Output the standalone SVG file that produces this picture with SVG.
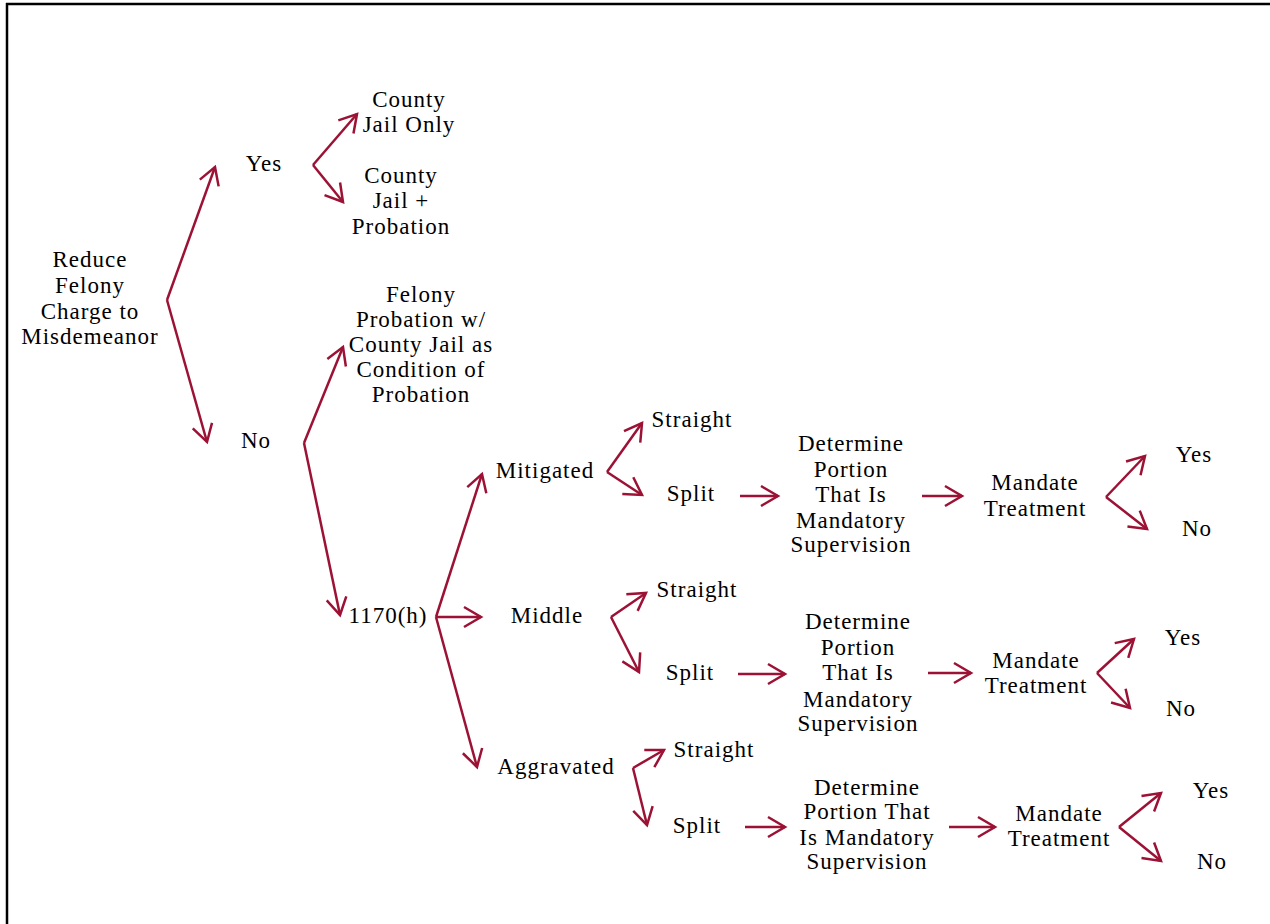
<svg xmlns="http://www.w3.org/2000/svg" width="1270" height="924" viewBox="0 0 1270 924">
<style>
text{font-family:"Liberation Serif","Times New Roman",serif;font-size:23px;letter-spacing:1px;fill:#000;text-anchor:middle}
.c path{fill:none;stroke:#9C1235;stroke-width:2.5;marker-end:url(#ah)}
</style>
<defs>
<marker id="ah" markerUnits="userSpaceOnUse" markerWidth="26" markerHeight="28" viewBox="-22 -14 26 28" refX="0" refY="0" orient="auto" overflow="visible">
<path d="M-17,-10 L0,0 L-17,10" fill="none" stroke="#9C1235" stroke-width="2.5"/>
</marker>
</defs>
<rect width="1270" height="924" fill="#fff"/>
<g id="border" stroke="#000" stroke-width="2.5" fill="none">
<path d="M6,4 H1270"/>
<path d="M7,3 V924"/>
</g>
<g id="connectors" class="c">
<path d="M167,300 L215,167"/>
<path d="M167,300 L207,442"/>
<path d="M313,165 L357,114"/>
<path d="M313,165 L343,202"/>
<path d="M304,443 L343,347"/>
<path d="M304,443 L340,615"/>
<path d="M436,617 L482,474"/>
<path d="M436,617 L481,617"/>
<path d="M436,617 L477,767"/>
<path d="M607,472 L642,423"/>
<path d="M607,472 L642,495"/>
<path d="M740,496 L778,496"/>
<path d="M922,496 L962,496"/>
<path d="M1106,497 L1145,456"/>
<path d="M1106,497 L1147,529"/>
<path d="M611,617 L646,593"/>
<path d="M611,617 L639,672"/>
<path d="M738,674 L785,674"/>
<path d="M928,673 L971,673"/>
<path d="M1097,673 L1134,639"/>
<path d="M1097,673 L1130,708"/>
<path d="M633,768 L664,750"/>
<path d="M633,768 L647,825"/>
<path d="M745,827 L785,827"/>
<path d="M949,827 L995,827"/>
<path d="M1119,827 L1161,793"/>
<path d="M1119,827 L1161,861"/>
</g>
<g id="reduce"><text x="90" y="267">Reduce</text><text x="90" y="293">Felony</text><text x="90" y="319">Charge to</text><text x="90" y="344">Misdemeanor</text></g>
<g id="yes"><text x="264" y="171">Yes</text></g>
<g id="no"><text x="256" y="448">No</text></g>
<g id="jail-only"><text x="409" y="107">County</text><text x="409" y="132">Jail Only</text></g>
<g id="jail-probation"><text x="401" y="183">County</text><text x="401" y="208">Jail +</text><text x="401" y="234">Probation</text></g>
<g id="felony-probation"><text x="421" y="302">Felony</text><text x="421" y="327">Probation w/</text><text x="421" y="352">County Jail as</text><text x="421" y="377">Condition of</text><text x="421" y="402">Probation</text></g>
<g id="h1170"><text x="388" y="623">1170(h)</text></g>
<g id="mitigated"><text x="545" y="478">Mitigated</text></g>
<g id="middle"><text x="547" y="623">Middle</text></g>
<g id="aggravated"><text x="556" y="774">Aggravated</text></g>
<g id="mit-straight"><text x="692" y="427">Straight</text></g>
<g id="mit-split"><text x="691" y="501">Split</text></g>
<g id="mit-determine"><text x="851" y="451">Determine</text><text x="851" y="477">Portion</text><text x="851" y="502">That Is</text><text x="851" y="528">Mandatory</text><text x="851" y="552">Supervision</text></g>
<g id="mit-mandate"><text x="1035" y="490">Mandate</text><text x="1035" y="516">Treatment</text></g>
<g id="mit-yes"><text x="1194" y="462">Yes</text></g>
<g id="mit-no"><text x="1197" y="536">No</text></g>
<g id="mid-straight"><text x="697" y="597">Straight</text></g>
<g id="mid-split"><text x="690" y="680">Split</text></g>
<g id="mid-determine"><text x="858" y="629">Determine</text><text x="858" y="655">Portion</text><text x="858" y="680">That Is</text><text x="858" y="707">Mandatory</text><text x="858" y="731">Supervision</text></g>
<g id="mid-mandate"><text x="1036" y="668">Mandate</text><text x="1036" y="693">Treatment</text></g>
<g id="mid-yes"><text x="1183" y="645">Yes</text></g>
<g id="mid-no"><text x="1181" y="716">No</text></g>
<g id="agg-straight"><text x="714" y="757">Straight</text></g>
<g id="agg-split"><text x="697" y="833">Split</text></g>
<g id="agg-determine"><text x="867" y="795">Determine</text><text x="867" y="819">Portion That</text><text x="867" y="845">Is Mandatory</text><text x="867" y="869">Supervision</text></g>
<g id="agg-mandate"><text x="1059" y="821">Mandate</text><text x="1059" y="846">Treatment</text></g>
<g id="agg-yes"><text x="1211" y="798">Yes</text></g>
<g id="agg-no"><text x="1212" y="869">No</text></g>
</svg>
